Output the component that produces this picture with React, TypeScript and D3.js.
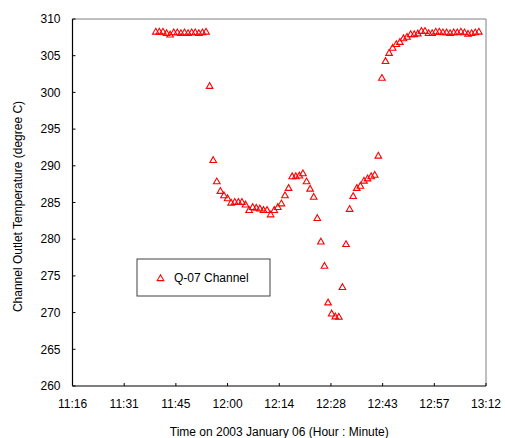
import React from "react";
import * as d3 from "d3";

// Time of each sample, minutes after midnight (11:40 .. 13:10)
const times: number[] = [
  700, 701, 702, 703, 704, 705, 706, 707, 708, 709, 710, 711, 712, 713, 714,
  715, 716, 717, 718, 719, 720, 721, 722, 723, 724, 725, 726, 727, 728, 729,
  730, 731, 732, 733, 734, 735, 736, 737, 738, 739, 740, 741, 742, 743, 744,
  745, 746, 747, 748, 749, 750, 751, 752, 753, 754, 755, 756, 757, 758, 759,
  760, 761, 762, 763, 764, 765, 766, 767, 768, 769, 770, 771, 772, 773, 774,
  775, 776, 777, 778, 779, 780, 781, 782, 783, 784, 785, 786, 787, 788, 789,
  790,
];

// Channel outlet temperature (degree C)
const temps: number[] = [
  308.3, 308.3, 308.3, 308.1, 307.9, 308.2, 308.2, 308.1, 308.2, 308.1, 308.2, 308.2, 308.1, 308.2, 308.3,
  300.9, 290.8, 287.9, 286.6, 286.0, 285.6, 285.0, 285.1, 285.1, 285.1, 284.75, 284.0, 284.4, 284.3, 284.2,
  284.0, 284.0, 283.4, 284.0, 284.4, 284.9, 286.0, 287.0, 288.6, 288.6, 288.7, 289.0, 287.9, 286.9, 285.8,
  282.9, 279.7, 276.4, 271.4, 269.9, 269.5, 269.45, 273.5, 279.35, 284.15, 285.9, 287.0, 287.3, 288.0, 288.3,
  288.6, 288.8, 291.4, 302.0, 304.3, 305.4, 306.1, 306.6, 306.9, 307.4, 307.6, 307.95, 307.95, 308.05, 308.4,
  308.4, 308.1, 308.1, 308.3, 308.3, 308.2, 308.2, 308.1, 308.2, 308.2, 308.3, 308.2, 308.0, 308.1, 308.2,
  308.3,
];

// Axis ticks (x in minutes after midnight; Excel axis 0.47..0.55 day, step 0.01)
const xTickValues: number[] = [676.8, 691.2, 705.6, 720, 734.4, 748.8, 763.2, 777.6, 792];
const xTickLabels: string[] = ["11:16", "11:31", "11:45", "12:00", "12:14", "12:28", "12:43", "12:57", "13:12"];
const yTickValues: number[] = [260, 265, 270, 275, 280, 285, 290, 295, 300, 305, 310];

const seriesName = "Q-07 Channel";
const xTitle = "Time on 2003 January 06 (Hour : Minute)";
const yTitle = "Channel Outlet Temperature (degree C)";

const W = 505;
const H = 438;
const plot = { left: 72.5, right: 486, top: 19, bottom: 386 };
const FONT = "'Liberation Sans', Arial, sans-serif";

function Tri({ cx, cy }: { cx: number; cy: number }) {
  const p = `M${cx},${cy - 3.2}L${cx + 3.3},${cy + 2.6}L${cx - 3.3},${cy + 2.6}Z`;
  return <path d={p} fill="none" stroke="#ff0000" strokeWidth={1.1} />;
}

export default function App() {
  const x = d3.scaleLinear().domain([676.8, 792]).range([plot.left, plot.right]);
  const y = d3.scaleLinear().domain([260, 310]).range([plot.bottom, plot.top]);

  return (
    <svg
      width={W}
      height={H}
      style={{ position: "absolute", left: 0, top: 0, background: "#fff" }}
      fontFamily={FONT}
    >
      <rect x={0} y={0} width={W} height={H} fill="#fff" />
      {/* frame: top and right in gray */}
      <line x1={plot.left} x2={plot.right} y1={plot.top} y2={plot.top} stroke="#808080" strokeWidth={1} />
      <line x1={plot.right} x2={plot.right} y1={plot.top} y2={plot.bottom} stroke="#808080" strokeWidth={1} />

      {/* y ticks & labels */}
      {yTickValues.map((v) => (
        <g key={"y" + v}>
          <line x1={plot.left} x2={plot.left + 3} y1={y(v)} y2={y(v)} stroke="#000" />
          <text x={plot.left - 12} y={y(v)} dy="0.35em" textAnchor="end" fontSize={12} fill="#000">
            {v}
          </text>
        </g>
      ))}
      {/* x ticks & labels */}
      {xTickValues.map((v, i) => (
        <g key={"x" + v}>
          <line x1={x(v)} x2={x(v)} y1={plot.bottom} y2={plot.bottom - 3} stroke="#000" />
          <text x={x(v)} y={plot.bottom + 21.5} textAnchor="middle" fontSize={12} fill="#000">
            {xTickLabels[i]}
          </text>
        </g>
      ))}

      {/* axes */}
      <line x1={plot.left} x2={plot.left} y1={plot.top} y2={plot.bottom} stroke="#000" strokeWidth={1.2} />
      <line x1={plot.left} x2={plot.right} y1={plot.bottom} y2={plot.bottom} stroke="#000" strokeWidth={1.2} />

      {/* data */}
      {times.map((t, i) => (
        <Tri key={i} cx={x(t)} cy={y(temps[i])} />
      ))}

      {/* legend */}
      <rect x={137} y={259} width={133} height={37} fill="#fff" stroke="#404040" strokeWidth={1} />
      <Tri cx={160.5} cy={278} />
      <text x={174} y={278} dy="0.35em" fontSize={12} fill="#000">
        {seriesName}
      </text>

      {/* titles */}
      <text x={(plot.left + plot.right) / 2} y={436} textAnchor="middle" fontSize={12} fill="#000">
        {xTitle}
      </text>
      <text
        transform={`translate(22,${(plot.top + plot.bottom) / 2 + 4}) rotate(-90)`}
        textAnchor="middle"
        fontSize={12}
        fill="#000"
      >
        {yTitle}
      </text>
    </svg>
  );
}
